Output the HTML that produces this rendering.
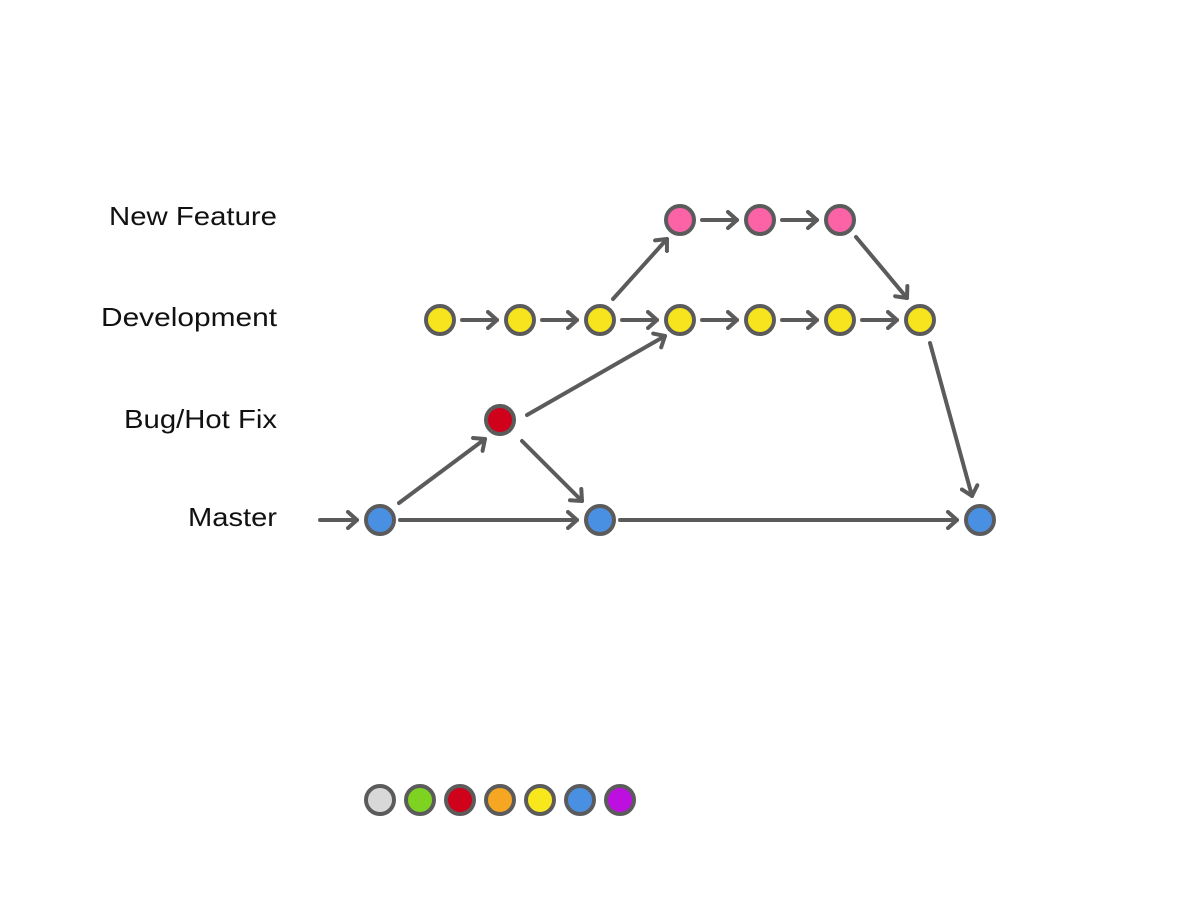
<!DOCTYPE html>
<html><head><meta charset="utf-8"><style>
html,body{margin:0;padding:0;background:#fff;}
svg{display:block;}
text{font-family:"Liberation Sans",sans-serif;font-size:26px;fill:#111;}
</style></head><body>
<svg width="1180" height="920" viewBox="0 0 1180 920">
<defs>
<marker id="a" markerUnits="userSpaceOnUse" markerWidth="20" markerHeight="20" refX="11" refY="10" orient="auto">
<path d="M2,2 L11,10 L2,18" fill="none" stroke="#5b5b5b" stroke-width="4" stroke-linecap="round" stroke-linejoin="round"/>
</marker>
</defs>
<g text-anchor="end" dominant-baseline="middle">
<text x="277" y="218" textLength="168" lengthAdjust="spacingAndGlyphs">New Feature</text>
<text x="277" y="319" textLength="176" lengthAdjust="spacingAndGlyphs">Development</text>
<text x="277" y="421" textLength="153" lengthAdjust="spacingAndGlyphs">Bug/Hot Fix</text>
<text x="277" y="519" textLength="89" lengthAdjust="spacingAndGlyphs">Master</text>
</g>
<g stroke="#5b5b5b" stroke-width="4" stroke-linecap="round" fill="none" marker-end="url(#a)">
<line x1="462" y1="320" x2="497" y2="320"/>
<line x1="542" y1="320" x2="577" y2="320"/>
<line x1="622" y1="320" x2="657" y2="320"/>
<line x1="702" y1="320" x2="737" y2="320"/>
<line x1="782" y1="320" x2="817" y2="320"/>
<line x1="862" y1="320" x2="897" y2="320"/>
<line x1="702" y1="220" x2="737" y2="220"/>
<line x1="782" y1="220" x2="817" y2="220"/>
<line x1="613" y1="299" x2="667" y2="239"/>
<line x1="856" y1="237" x2="907" y2="298"/>
<line x1="527" y1="415" x2="665" y2="336"/>
<line x1="399" y1="503" x2="485" y2="439"/>
<line x1="522" y1="441" x2="582" y2="501"/>
<line x1="320" y1="520" x2="357" y2="520"/>
<line x1="400" y1="520" x2="577" y2="520"/>
<line x1="620" y1="520" x2="957" y2="520"/>
<line x1="930" y1="343" x2="972" y2="496"/>
</g>
<g stroke="#5b5b5b" stroke-width="4">
<circle cx="680" cy="220" r="14" fill="#fb63a6"/>
<circle cx="760" cy="220" r="14" fill="#fb63a6"/>
<circle cx="840" cy="220" r="14" fill="#fb63a6"/>
<circle cx="440" cy="320" r="14" fill="#f8e41e"/>
<circle cx="520" cy="320" r="14" fill="#f8e41e"/>
<circle cx="600" cy="320" r="14" fill="#f8e41e"/>
<circle cx="680" cy="320" r="14" fill="#f8e41e"/>
<circle cx="760" cy="320" r="14" fill="#f8e41e"/>
<circle cx="840" cy="320" r="14" fill="#f8e41e"/>
<circle cx="920" cy="320" r="14" fill="#f8e41e"/>
<circle cx="500" cy="420" r="14" fill="#d0021b"/>
<circle cx="380" cy="520" r="14" fill="#4a90e2"/>
<circle cx="600" cy="520" r="14" fill="#4a90e2"/>
<circle cx="980" cy="520" r="14" fill="#4a90e2"/>
<circle cx="380" cy="800" r="14" fill="#d8d8d8"/>
<circle cx="420" cy="800" r="14" fill="#7ed321"/>
<circle cx="460" cy="800" r="14" fill="#d0021b"/>
<circle cx="500" cy="800" r="14" fill="#f5a623"/>
<circle cx="540" cy="800" r="14" fill="#f8e71c"/>
<circle cx="580" cy="800" r="14" fill="#4a90e2"/>
<circle cx="620" cy="800" r="14" fill="#bd10e0"/>
</g>
</svg>
</body></html>
